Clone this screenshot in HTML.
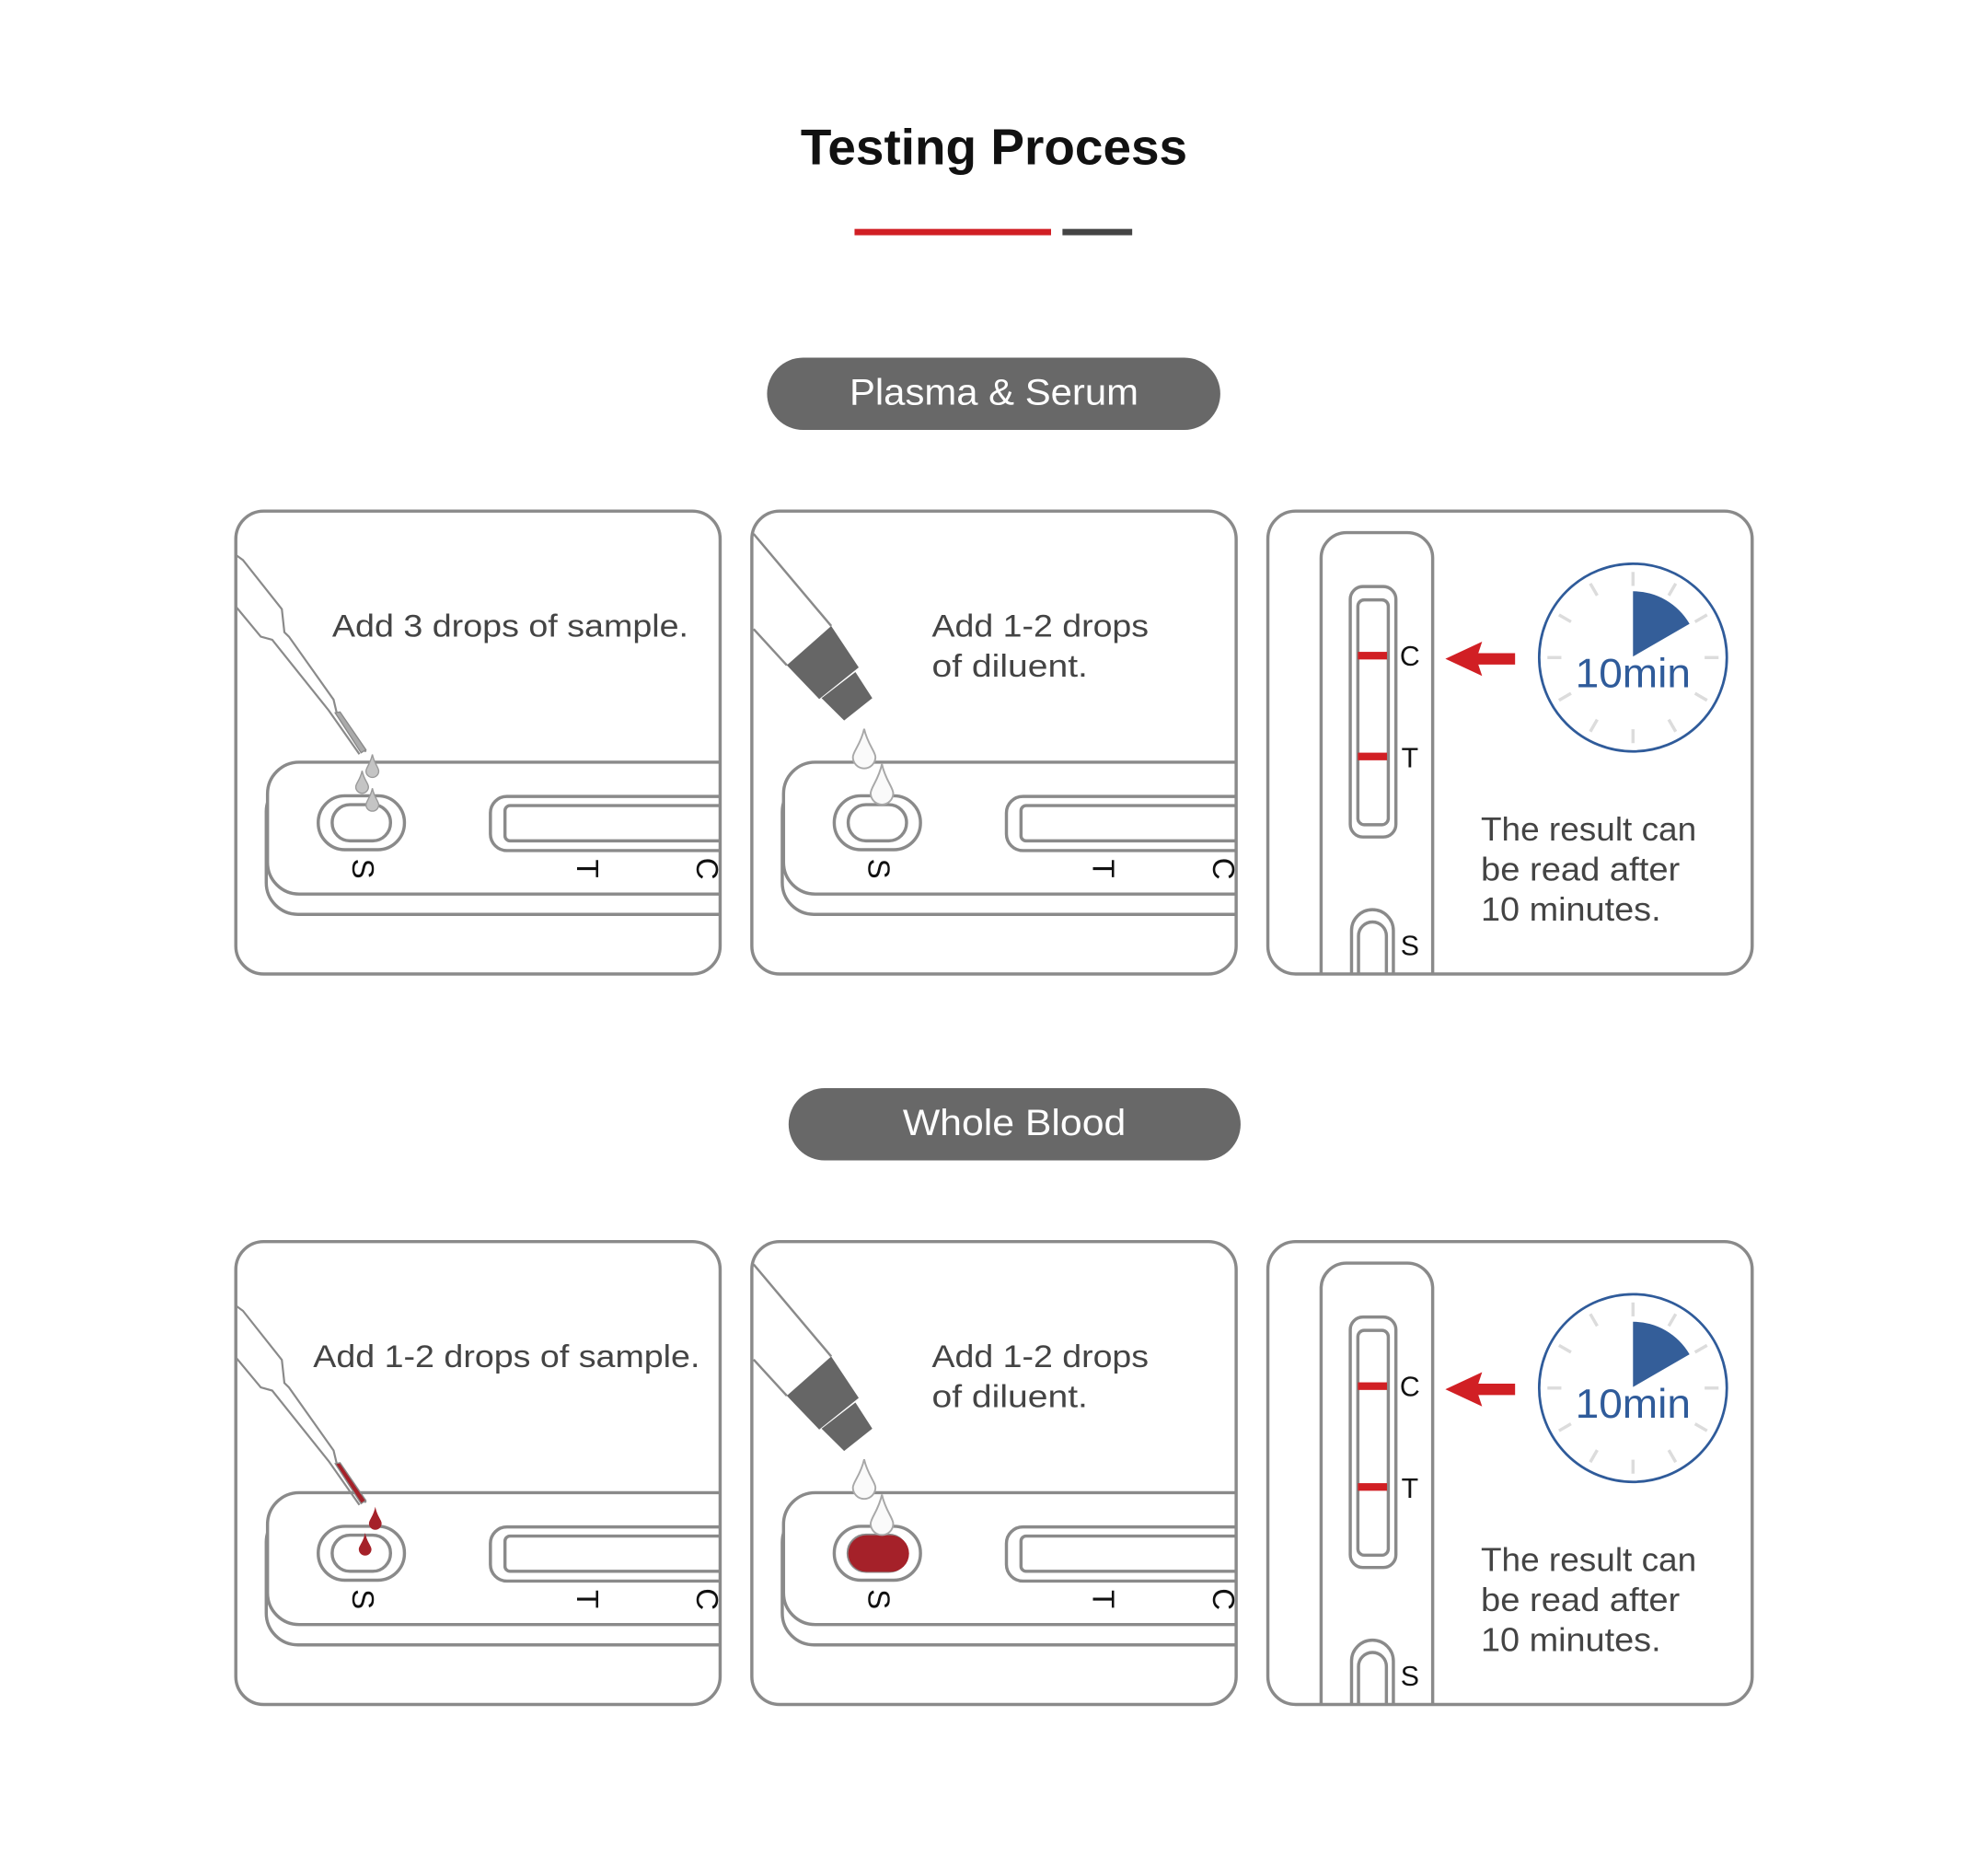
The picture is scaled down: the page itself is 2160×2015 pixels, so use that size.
<!DOCTYPE html>
<html><head><meta charset="utf-8"><style>
html,body{margin:0;padding:0;background:#fff}
svg{display:block}
text{font-family:"Liberation Sans",sans-serif}
</style></head><body>
<svg width="2160" height="2015" viewBox="0 0 1568 1462.7" preserveAspectRatio="none" xmlns="http://www.w3.org/2000/svg">
<defs>
<clipPath id="c1"><rect x="186" y="403" width="382" height="365" rx="22"/></clipPath>
<clipPath id="c3"><rect x="1000" y="403" width="382" height="365" rx="22"/></clipPath>
<g id="hcas" fill="none" stroke="#8a8a8a" stroke-width="2.5">
<path d="M600,615 H235 A25,25 0 0 0 210,640 V696 A25,25 0 0 0 235,721 H600" fill="#fff"/>
<rect x="211" y="601" width="400" height="104" rx="25" fill="#fff"/>
<rect x="251" y="627.5" width="68" height="42.5" rx="21" fill="#fff"/>
<rect x="262" y="634.5" width="46" height="28.5" rx="14" fill="#fff"/>
<rect x="386.8" y="628" width="220" height="42.7" rx="13"/>
<rect x="398.3" y="635.2" width="220" height="27.8" rx="4"/>
</g>
<g id="pip" fill="none" stroke="#8a8a8a" stroke-width="1.6">
<polyline points="186.6,438 191.6,441.6 222.3,480.3 224.3,498.5 227.9,502 263.1,551.7 265.7,562.6 288.6,592.8"/>
<polyline points="186.6,479 205.7,502 214.7,504.5 259.3,560.2 283.5,594.7"/>
</g>
<g id="bottle">
<line x1="594.4" y1="421" x2="655.6" y2="493.6" stroke="#8a8a8a" stroke-width="1.8"/>
<line x1="594.4" y1="496" x2="620.6" y2="524.6" stroke="#8a8a8a" stroke-width="1.8"/>
<polygon points="620.6,524.6 655.6,493.6 677.3,526.3 646.1,551.2" fill="#666"/>
<polygon points="648,550.5 674.7,529.9 688,550.5 665.8,568.1" fill="#666"/>
</g>
<g id="vcas" fill="none" stroke="#8a8a8a" stroke-width="2.5">
<path d="M1042,800 V440 A20,20 0 0 1 1062,420 H1110 A20,20 0 0 1 1130,440 V800" fill="#fff"/>
<rect x="1065" y="462.5" width="36" height="197.5" rx="10"/>
<rect x="1071" y="473" width="24" height="177.3" rx="5"/>
<rect x="1066" y="717.3" width="33" height="80" rx="16.5"/>
<rect x="1071.5" y="727" width="22" height="60" rx="11"/>
</g>
<g id="clock">
<circle cx="1288" cy="518.5" r="74" fill="#fff" stroke="#2f5b9a" stroke-width="2"/>
<g stroke="#dcdcdc" stroke-width="2.5">
<line x1="1288" y1="451" x2="1288" y2="462"/><line x1="1288" y1="575" x2="1288" y2="586"/>
<line x1="1220.5" y1="518.5" x2="1231.5" y2="518.5"/><line x1="1344.5" y1="518.5" x2="1355.5" y2="518.5"/>
<line x1="1321.7" y1="460.1" x2="1316.2" y2="469.6"/><line x1="1254.3" y1="576.9" x2="1259.8" y2="567.4"/>
<line x1="1346.4" y1="484.8" x2="1336.9" y2="490.3"/><line x1="1229.6" y1="552.2" x2="1239.1" y2="546.7"/>
<line x1="1346.4" y1="552.2" x2="1336.9" y2="546.7"/><line x1="1229.6" y1="484.8" x2="1239.1" y2="490.3"/>
<line x1="1321.7" y1="576.9" x2="1316.2" y2="567.4"/><line x1="1254.3" y1="460.1" x2="1259.8" y2="469.6"/>
</g>
<path d="M1288,517.7 V466.2 A51.5,51.5 0 0 1 1332.6,491.9 Z" fill="#345e99"/>
</g>
<g id="arrow"><polygon points="1140,519.5 1169,506 1166,515 1195,515 1195,524 1166,524 1169,533" fill="#d11f24"/></g>
</defs>

<text x="784" y="129.5" text-anchor="middle" font-size="40" font-weight="bold" fill="#111" textLength="305" lengthAdjust="spacingAndGlyphs">Testing Process</text>
<rect x="674" y="180.5" width="155" height="5" fill="#d11f24"/>
<rect x="838" y="180.5" width="55" height="5" fill="#444"/>

<rect x="605" y="282" width="357.5" height="57" rx="28.5" fill="#686868"/>
<text x="784" y="318.9" text-anchor="middle" font-size="29" fill="#fff" textLength="228" lengthAdjust="spacingAndGlyphs">Plasma &amp; Serum</text>
<rect x="622" y="858" width="356.5" height="57" rx="28.5" fill="#686868"/>
<text x="800" y="894.9" text-anchor="middle" font-size="29" fill="#fff" textLength="176" lengthAdjust="spacingAndGlyphs">Whole Blood</text>

<!-- ROW 1 -->
<g>
 <!-- panel 1 -->
 <g clip-path="url(#c1)"><use href="#hcas"/><use href="#pip"/></g>
 <polygon points="264.4,562.1 268.2,561.4 288.6,591.2 284.8,593.6" fill="#aaa" stroke="#8a8a8a" stroke-width="1"/>
 <g fill="#c4c4c4" stroke="#9a9a9a" stroke-width="1">
 <path d="M293.7,594.9 C295.2,602.1 298.7,605.3 298.7,608 A5,5 0 0 1 288.7,608 C288.7,605.3 292.2,602.1 293.7,594.9Z"/>
 <path d="M285.6,607.8 C287.1,614.9 290.6,617.8 290.6,620.5 A5,5 0 0 1 280.6,620.5 C280.6,617.8 284.1,614.9 285.6,607.8Z"/>
 <path d="M293.7,621.6 C295.2,628.8 298.7,631.9 298.7,634.6 A5,5 0 0 1 288.7,634.6 C288.7,631.9 292.2,628.8 293.7,621.6Z"/>
 </g>
 <text font-size="24" fill="#111" text-anchor="middle" transform="translate(286,685) rotate(90)" dy="8">S</text>
 <text font-size="24" fill="#111" text-anchor="middle" transform="translate(463,685) rotate(90)" dy="8">T</text>
 <text font-size="24" fill="#111" text-anchor="middle" transform="translate(557.7,685) rotate(90)" dy="8">C</text>
 <rect x="186" y="403" width="382" height="365" rx="22" fill="none" stroke="#8a8a8a" stroke-width="2.5"/>
 <text x="262" y="502" font-size="25" fill="#444" textLength="281" lengthAdjust="spacingAndGlyphs">Add 3 drops of sample.</text>

 <!-- panel 2 -->
 <g transform="translate(407,0)"><g clip-path="url(#c1)"><use href="#hcas"/></g></g>
 <use href="#bottle"/>
 <g fill="#fafafa" stroke="#a8a8a8" stroke-width="1.4">
 <path d="M681.6,574.7 C684.3,587 690.5,592.6 690.5,597 A8.9,8.9 0 0 1 672.7,597 C672.7,592.6 678.9,587 681.6,574.7Z"/>
 <path d="M695.6,602.5 C698.3,615 704.5,621 704.5,625.5 A8.9,8.9 0 0 1 686.7,625.5 C686.7,621 692.9,615 695.6,602.5Z"/>
 </g>
 <text font-size="24" fill="#111" text-anchor="middle" transform="translate(693,685) rotate(90)" dy="8">S</text>
 <text font-size="24" fill="#111" text-anchor="middle" transform="translate(870,685) rotate(90)" dy="8">T</text>
 <text font-size="24" fill="#111" text-anchor="middle" transform="translate(964.7,685) rotate(90)" dy="8">C</text>
 <rect x="593" y="403" width="382" height="365" rx="22" fill="none" stroke="#8a8a8a" stroke-width="2.5"/>
 <text x="735" y="502" font-size="25" fill="#444" textLength="171" lengthAdjust="spacingAndGlyphs">Add 1-2 drops</text>
 <text x="735" y="533.5" font-size="25" fill="#444" textLength="123" lengthAdjust="spacingAndGlyphs">of diluent.</text>

 <!-- panel 3 -->
 <g clip-path="url(#c3)"><use href="#vcas"/></g>
 <rect x="1071" y="514" width="23" height="6" fill="#d11f24"/>
 <rect x="1071" y="593.5" width="23" height="6" fill="#d11f24"/>
 <text x="1112" y="525" font-size="22" fill="#111" text-anchor="middle">C</text>
 <text x="1112" y="605" font-size="22" fill="#111" text-anchor="middle">T</text>
 <text x="1112" y="753" font-size="22" fill="#111" text-anchor="middle">S</text>
 <use href="#arrow"/>
 <use href="#clock"/>
 <text x="1288" y="541.9" font-size="32" fill="#2f5b9a" text-anchor="middle" textLength="91" lengthAdjust="spacingAndGlyphs">10min</text>
 <rect x="1000" y="403" width="382" height="365" rx="22" fill="none" stroke="#8a8a8a" stroke-width="2.5"/>
 <text x="1168" y="662.9" font-size="26" fill="#444" textLength="170" lengthAdjust="spacingAndGlyphs">The result can</text>
 <text x="1168" y="694.3" font-size="26" fill="#444" textLength="157" lengthAdjust="spacingAndGlyphs">be read after</text>
 <text x="1168" y="725.8" font-size="26" fill="#444" textLength="142" lengthAdjust="spacingAndGlyphs">10 minutes.</text>
</g>

<!-- ROW 2 -->
<g transform="translate(0,576)">
 <g clip-path="url(#c1)"><use href="#hcas"/><g transform="translate(0,16)"><use href="#pip"/></g></g>
 <polygon points="264.4,578.1 268.2,577.4 288.6,607.2 284.8,609.6" fill="#a52129" stroke="#8a8a8a" stroke-width="1"/>
 <text font-size="24" fill="#111" text-anchor="middle" transform="translate(286,685) rotate(90)" dy="8">S</text>
 <text font-size="24" fill="#111" text-anchor="middle" transform="translate(463,685) rotate(90)" dy="8">T</text>
 <text font-size="24" fill="#111" text-anchor="middle" transform="translate(557.7,685) rotate(90)" dy="8">C</text>
 <rect x="186" y="403" width="382" height="365" rx="22" fill="none" stroke="#8a8a8a" stroke-width="2.5"/>
 <text x="247" y="502" font-size="25" fill="#444" textLength="305" lengthAdjust="spacingAndGlyphs">Add 1-2 drops of sample.</text>

 <g transform="translate(407,0)"><g clip-path="url(#c1)"><use href="#hcas"/></g></g>
 <rect x="669" y="634.5" width="48" height="29" rx="14.5" fill="#a52129"/>
 <use href="#bottle"/>
 <g fill="#fafafa" stroke="#a8a8a8" stroke-width="1.4">
 <path d="M681.6,574.7 C684.3,587 690.5,592.6 690.5,597 A8.9,8.9 0 0 1 672.7,597 C672.7,592.6 678.9,587 681.6,574.7Z"/>
 <path d="M695.6,602.5 C698.3,615 704.5,621 704.5,625.5 A8.9,8.9 0 0 1 686.7,625.5 C686.7,621 692.9,615 695.6,602.5Z"/>
 </g>
 <text font-size="24" fill="#111" text-anchor="middle" transform="translate(693,685) rotate(90)" dy="8">S</text>
 <text font-size="24" fill="#111" text-anchor="middle" transform="translate(870,685) rotate(90)" dy="8">T</text>
 <text font-size="24" fill="#111" text-anchor="middle" transform="translate(964.7,685) rotate(90)" dy="8">C</text>
 <rect x="593" y="403" width="382" height="365" rx="22" fill="none" stroke="#8a8a8a" stroke-width="2.5"/>
 <text x="735" y="502" font-size="25" fill="#444" textLength="171" lengthAdjust="spacingAndGlyphs">Add 1-2 drops</text>
 <text x="735" y="533.5" font-size="25" fill="#444" textLength="123" lengthAdjust="spacingAndGlyphs">of diluent.</text>

 <g clip-path="url(#c3)"><use href="#vcas"/></g>
 <rect x="1071" y="514" width="23" height="6" fill="#d11f24"/>
 <rect x="1071" y="593.5" width="23" height="6" fill="#d11f24"/>
 <text x="1112" y="525" font-size="22" fill="#111" text-anchor="middle">C</text>
 <text x="1112" y="605" font-size="22" fill="#111" text-anchor="middle">T</text>
 <text x="1112" y="753" font-size="22" fill="#111" text-anchor="middle">S</text>
 <use href="#arrow"/>
 <use href="#clock"/>
 <text x="1288" y="541.9" font-size="32" fill="#2f5b9a" text-anchor="middle" textLength="91" lengthAdjust="spacingAndGlyphs">10min</text>
 <rect x="1000" y="403" width="382" height="365" rx="22" fill="none" stroke="#8a8a8a" stroke-width="2.5"/>
 <text x="1168" y="662.9" font-size="26" fill="#444" textLength="170" lengthAdjust="spacingAndGlyphs">The result can</text>
 <text x="1168" y="694.3" font-size="26" fill="#444" textLength="157" lengthAdjust="spacingAndGlyphs">be read after</text>
 <text x="1168" y="725.8" font-size="26" fill="#444" textLength="142" lengthAdjust="spacingAndGlyphs">10 minutes.</text>
</g>
<!-- blood drops (absolute) -->
<g fill="#a52129">
 <path d="M296,1188.1 C297.5,1195.5 301,1198.5 301,1201.3 A5,5 0 0 1 291,1201.3 C291,1198.5 294.5,1195.5 296,1188.1Z"/>
 <path d="M288,1208.6 C289.5,1216 293,1219 293,1221.6 A5,5 0 0 1 283,1221.6 C283,1219 286.5,1216 288,1208.6Z"/>
</g>
</svg>
</body></html>
